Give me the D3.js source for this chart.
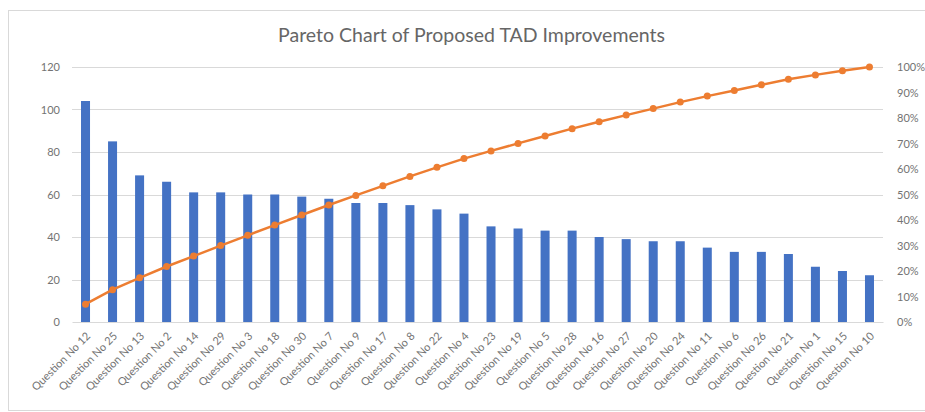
<!DOCTYPE html>
<html>
<head>
    <meta charset="UTF-8">
    <script src="https://d3js.org/d3.v7.min.js"></script>
    <style>
        body { margin: 0; background: #fff; }
        text { font-family: Lato, "Liberation Sans", sans-serif; }
    </style>
</head>
<body>
<script>
    // questions sorted by count, as in the chart
    var questions = ["Question No 12", "Question No 25", "Question No 13", "Question No 2", "Question No 14",
        "Question No 29", "Question No 3", "Question No 18", "Question No 30", "Question No 7",
        "Question No 9", "Question No 17", "Question No 8", "Question No 22", "Question No 4",
        "Question No 23", "Question No 19", "Question No 5", "Question No 28", "Question No 16",
        "Question No 27", "Question No 20", "Question No 24", "Question No 11", "Question No 6",
        "Question No 26", "Question No 21", "Question No 1", "Question No 15", "Question No 10"];
    var counts = [104, 85, 69, 66, 61, 61, 60, 60, 59, 58,
        56, 56, 55, 53, 51, 45, 44, 43, 43, 40,
        39, 38, 38, 35, 33, 33, 32, 26, 24, 22];
    var leftTicks = [0, 20, 40, 60, 80, 100, 120];
    var rightTicks = [0, 0.1, 0.2, 0.3, 0.4, 0.5, 0.6, 0.7, 0.8, 0.9, 1];
    var title = "Pareto Chart of Proposed TAD Improvements";

    var W = 925, H = 412;
    var margin = { top: 67, right: 42, bottom: 90, left: 72 };
    var width = W - margin.left - margin.right,
        height = H - margin.top - margin.bottom;

    // cumulative share for the pareto line
    var total = d3.sum(counts);
    var cum = Array.from(d3.cumsum(counts), function (c) { return c / total; });

    var svg = d3.select("body").append("svg")
        .attr("width", W).attr("height", H);

    // chart area border
    svg.append("rect")
        .attr("x", 8.5).attr("y", 10.5)
        .attr("width", W).attr("height", H - 12)
        .attr("fill", "#fff").attr("stroke", "#d9d9d9");

    svg.append("text")
        .attr("x", W / 2 + 9).attr("y", 42)
        .attr("text-anchor", "middle")
        .style("font-size", "19.5px")
        .attr("fill", "#666")
        .text(title);

    var g = svg.append("g")
        .attr("transform", "translate(" + margin.left + "," + margin.top + ")");

    var x = d3.scaleBand().domain(questions).range([0, width]).paddingInner(2 / 3).paddingOuter(1 / 3);
    var y = d3.scaleLinear().domain([0, 120]).range([height, 0]);
    var y2 = d3.scaleLinear().domain([0, 1]).range([height, 0]);

    // gridlines
    g.append("g").selectAll("line")
        .data(leftTicks.slice(1))
        .join("line")
        .attr("x1", 0).attr("x2", width)
        .attr("y1", function (d) { return Math.round(y(d)) + 0.5; })
        .attr("y2", function (d) { return Math.round(y(d)) + 0.5; })
        .attr("stroke", "#d9d9d9");

    // left axis
    var yAxis = g.append("g")
        .call(d3.axisLeft(y).tickValues(leftTicks).tickSize(0).tickPadding(12));
    yAxis.select(".domain").remove();
    yAxis.selectAll("text").attr("fill", "#737373").style("font-size", "11px");

    // right axis
    var yAxis2 = g.append("g")
        .attr("transform", "translate(" + width + ",0)")
        .call(d3.axisRight(y2).tickValues(rightTicks).tickSize(0).tickPadding(14).tickFormat(d3.format(".0%")));
    yAxis2.select(".domain").remove();
    yAxis2.selectAll("text").attr("fill", "#737373").style("font-size", "11px");

    // bars
    g.append("g").selectAll("rect")
        .data(counts)
        .join("rect")
        .attr("x", function (d, i) { return x(questions[i]); })
        .attr("y", function (d) { return y(d); })
        .attr("width", x.bandwidth())
        .attr("height", function (d) { return height - y(d); })
        .attr("fill", "#4472C4");

    // x axis
    var xAxis = g.append("g")
        .attr("transform", "translate(0," + height + ")")
        .call(d3.axisBottom(x).tickSize(0).tickPadding(10));
    xAxis.select(".domain").attr("stroke", "#d9d9d9");
    xAxis.selectAll("text")
        .attr("fill", "#737373")
        .style("font-size", "11px")
        .attr("text-anchor", "end")
        .attr("dx", "-0.6em")
        .attr("dy", "0.4em")
        .attr("transform", "rotate(-45)");

    // pareto line
    var line = d3.line()
        .x(function (d, i) { return x(questions[i]) + x.bandwidth() / 2; })
        .y(function (d) { return y2(d); });

    g.append("path")
        .attr("d", line(cum))
        .attr("fill", "none")
        .attr("stroke", "#ED7D31")
        .attr("stroke-width", 2.5);

    g.append("g").selectAll("circle")
        .data(cum)
        .join("circle")
        .attr("cx", function (d, i) { return x(questions[i]) + x.bandwidth() / 2; })
        .attr("cy", function (d) { return y2(d); })
        .attr("r", 3.5)
        .attr("fill", "#ED7D31");
</script>
</body>
</html>
